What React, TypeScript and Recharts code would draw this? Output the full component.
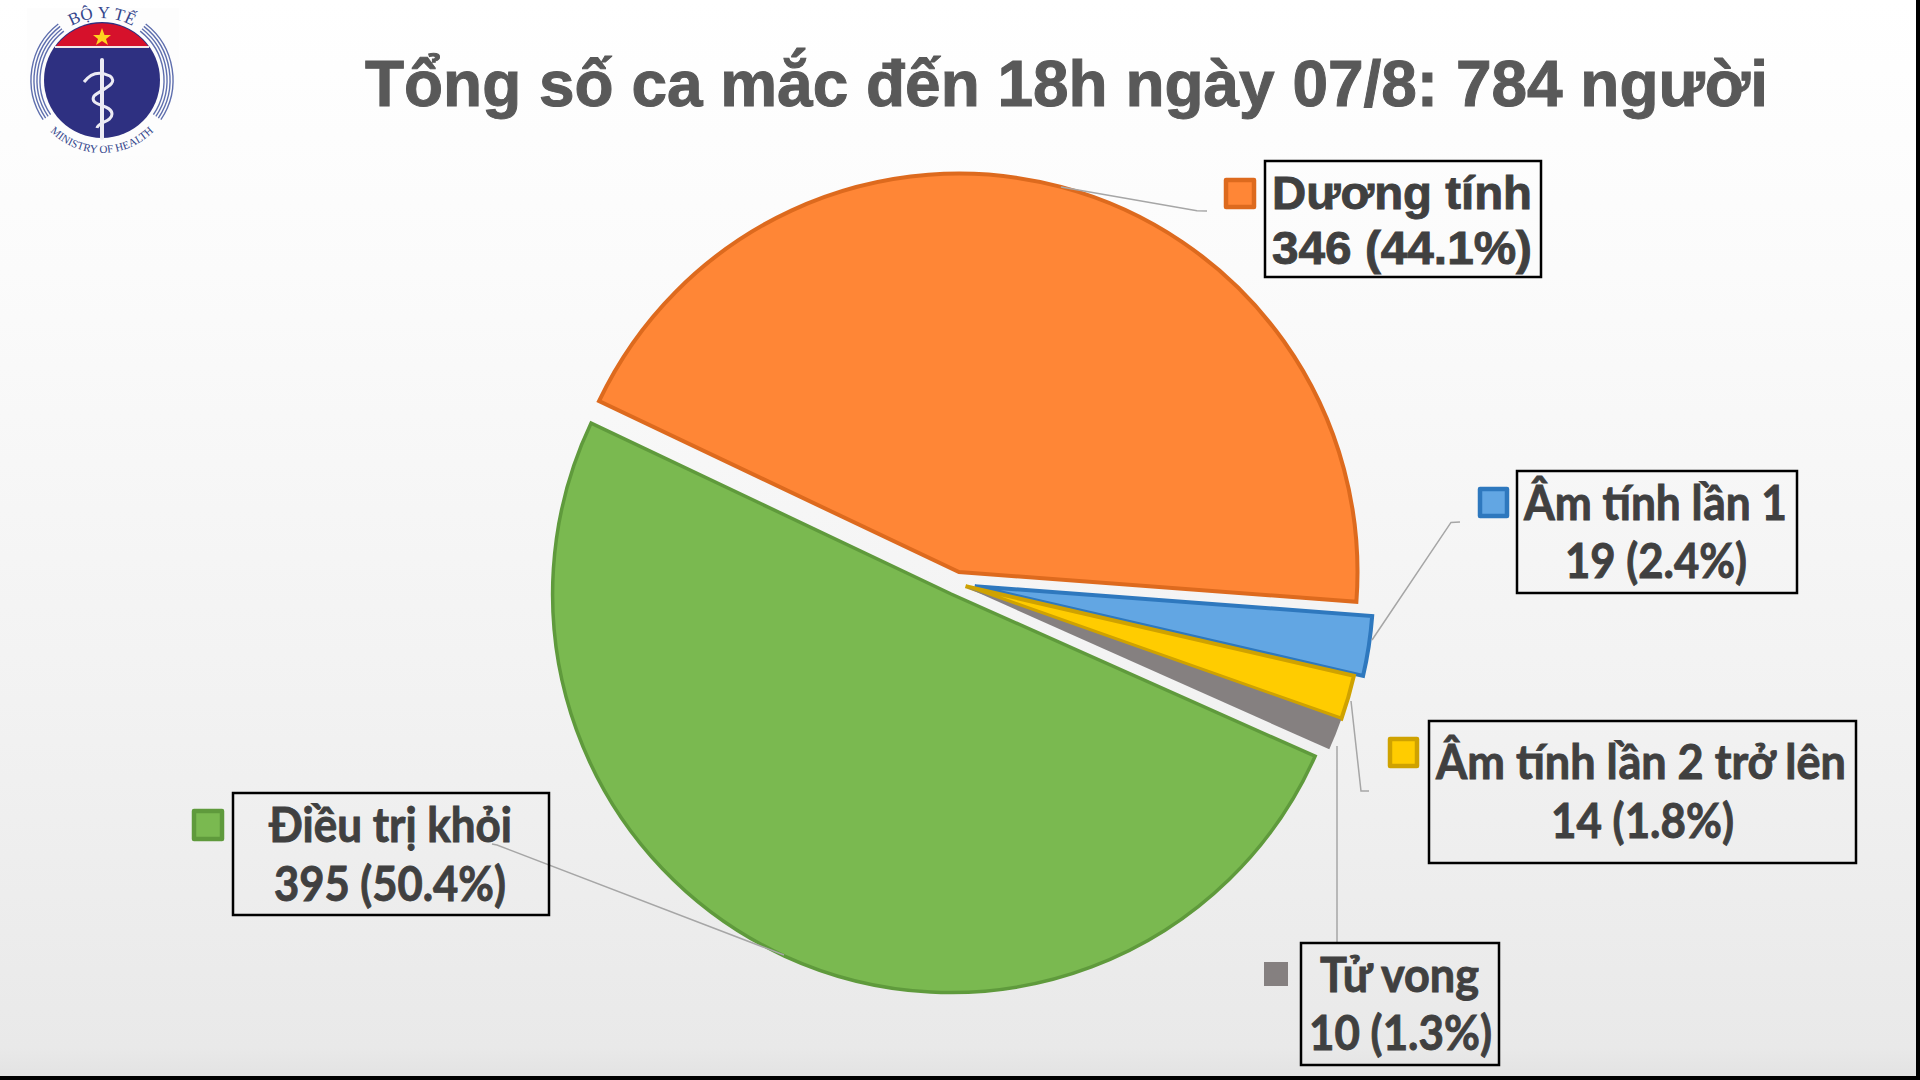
import React from "react";
import { PieChart, Pie, Cell, Sector } from "recharts";

const categories = ["Dương tính", "Âm tính lần 1", "Âm tính lần 2 trở lên", "Tử vong", "Điều trị khỏi"];
const values = [346, 19, 14, 10, 395];
const valueLabels = ["346 (44.1%)", "19 (2.4%)", "14 (1.8%)", "10 (1.3%)", "395 (50.4%)"];
const titleText = "Tổng số ca mắc đến 18h ngày 07/8: 784 người";

const rows = categories.map((name, i) => ({ name, value: values[i] }));

const fills = ["#FF8636", "#62A6E3", "#FFCC00", "#858080", "#7AB950"];
const strokes = ["#DD6A1E", "#2E78BE", "#CFA200", "#858080", "#5F9A3C"];
const strokeWidths = [4, 4, 4, 0, 3.5];
const explode = [11.7, 19, 10, 10, 11.7];

const boxes = [
  { x: 1265, y: 161, w: 276, h: 116 },
  { x: 1517, y: 471, w: 280, h: 122 },
  { x: 1429, y: 721, w: 427, h: 142 },
  { x: 1301, y: 943, w: 198, h: 122 },
  { x: 233, y: 793, w: 316, h: 122 },
];
const markers = [
  { x: 1226, y: 180, w: 28, h: 27 },
  { x: 1480, y: 489, w: 27, h: 27 },
  { x: 1390, y: 739, w: 27, h: 27 },
  { x: 1264, y: 962, w: 24, h: 24 },
  { x: 194, y: 811, w: 28, h: 28 },
];
const leaders = [
  "1061,187 1197,210.7 1207,211",
  "1372,640 1451,522.4 1460,522",
  "1351,701 1361,791 1369,791",
  "1337,746 1337,943",
  "492,844 497,845 784,955",
];
const textPlace = [
  { x1: 1272, w1: 260, b1: 209, x2: 1272, w2: 260, b2: 264, font: "'Liberation Sans'", size: 47 },
  { x1: 1524, w1: 263, b1: 520, x2: 1565, w2: 182, b2: 578, font: "Lato", size: 47 },
  { x1: 1436, w1: 410, b1: 779, x2: 1551, w2: 183, b2: 838, font: "Lato", size: 47 },
  { x1: 1320, w1: 159, b1: 992, x2: 1309, w2: 183, b2: 1050, font: "Lato", size: 47 },
  { x1: 269, w1: 243, b1: 842, x2: 274, w2: 232, b2: 901, font: "Lato", size: 47 },
];

const RAD = Math.PI / 180;
const Slice = (props: any) => {
  const { cx, cy, midAngle, index } = props;
  const d = explode[index] ?? 0;
  return (
    <Sector
      {...props}
      cx={cx + d * Math.cos(midAngle * RAD)}
      cy={cy - d * Math.sin(midAngle * RAD)}
      fill={fills[index]}
      stroke={strokes[index]}
      strokeWidth={strokeWidths[index]}
    />
  );
};

const LC = { x: 102, y: 80 };
const polar = (r: number, deg: number) => ({
  x: LC.x + r * Math.cos(deg * RAD),
  y: LC.y - r * Math.sin(deg * RAD),
});
const arc = (r: number, from: number, to: number, sweep: number) => {
  const a = polar(r, from);
  const b = polar(r, to);
  return `M ${a.x} ${a.y} A ${r} ${r} 0 0 ${sweep} ${b.x} ${b.y}`;
};
const ringRadii = [62, 65, 68, 71];

const Logo = () => (
  <svg width={220} height={170} style={{ position: "absolute", left: 0, top: 0 }}>
    <rect x={27} y={8} width={152} height={148} fill="#fdfdfd" />
    <defs>
      <path id="arcTop" d={arc(62, 135, 45, 1)} />
      <path id="arcBottom" d={arc(73, 222, 318, 0)} />
    </defs>
    <circle cx={LC.x} cy={LC.y} r={58} fill="#2E3081" />
    <path d="M 56 46 A 58 58 0 0 1 148 46 Z" fill="#D6112B" />
    <line x1={55} y1={47} x2={149} y2={47} stroke="#f3e6e6" strokeWidth={2} />
    <polygon points="102,29 104.5,36 111,36 106,40 108,46 102,42 96,46 98,40 93,36 99.5,36" fill="#FFD21F" transform="translate(0,-1) scale(1)" />
    {ringRadii.map((r) => (
      <g key={r} fill="none" stroke="#5F6FAE" strokeWidth={1.4}>
        <path d={arc(r, 128, 214, 0)} />
        <path d={arc(r, 52, -34, 1)} />
      </g>
    ))}
    <line x1={102} y1={60} x2={102} y2={138} stroke="#ecebf4" strokeWidth={4} strokeLinecap="round" />
    <path d="M 84 82 C 90 74 98 70 110 76 C 120 84 100 90 94 96 C 88 106 112 104 112 114 C 112 122 98 122 97 128" fill="none" stroke="#ecebf4" strokeWidth={3} />
    <text fontSize={17} fontFamily="'Liberation Serif'" fill="#34468C">
      <textPath href="#arcTop" startOffset="50%" textAnchor="middle">BỘ Y TẾ</textPath>
    </text>
    <text fontSize={11} fontFamily="'Liberation Serif'" fill="#34468C">
      <textPath href="#arcBottom" startOffset="50%" textAnchor="middle">MINISTRY OF HEALTH</textPath>
    </text>
  </svg>
);

export default function App() {
  return (
    <div
      style={{
        position: "absolute",
        left: 0,
        top: 0,
        width: 1920,
        height: 1080,
        overflow: "hidden",
        background: "linear-gradient(#ffffff 0%, #fbfbfb 25%, #f2f2f2 65%, #e9e9e9 97%, #e2e2e2 100%)",
      }}
    >
      <PieChart width={1920} height={1080} margin={{ top: 0, right: 0, bottom: 0, left: 0 }} style={{ position: "absolute", left: 0, top: 0 }}>
        <Pie
          data={rows}
          dataKey="value"
          nameKey="name"
          cx={956}
          cy={583.4}
          innerRadius={0}
          outerRadius={398.5}
          startAngle={154.6}
          endAngle={-205.4}
          paddingAngle={0}
          isAnimationActive={false}
          legendType="square"
          shape={Slice}
          activeShape={Slice}
          inactiveShape={Slice}
        >
          {rows.map((r, i) => (
            <Cell key={r.name} fill={fills[i]} stroke={strokes[i]} />
          ))}
        </Pie>
      </PieChart>
      <svg width={1920} height={1080} style={{ position: "absolute", left: 0, top: 0 }}>
        <text x={365} y={106} fontFamily="'Liberation Sans'" fontWeight={700} fontSize={64} fill="#595959" stroke="#595959" strokeWidth={1} textLength={1403} lengthAdjust="spacingAndGlyphs">
          {titleText}
        </text>
        {leaders.map((p, i) => (
          <polyline key={i} points={p} fill="none" stroke="#A6A6A6" strokeWidth={1.5} />
        ))}
        {categories.map((name, i) => {
          const m = markers[i];
          const b = boxes[i];
          const t = textPlace[i];
          return (
            <g key={name}>
              <rect x={m.x} y={m.y} width={m.w} height={m.h} fill={fills[i]} stroke={strokes[i]} strokeWidth={i === 3 ? 0 : 4.5} strokeLinejoin="round" />
              <rect x={b.x} y={b.y} width={b.w} height={b.h} fill="none" stroke="#000" strokeWidth={2.5} />
              <text x={t.x1} y={t.b1} fontFamily={t.font} fontWeight={700} fontSize={t.size} fill="#404040" stroke="#404040" strokeWidth={0.9} textLength={t.w1} lengthAdjust="spacingAndGlyphs">{name}</text>
              <text x={t.x2} y={t.b2} fontFamily={t.font} fontWeight={700} fontSize={t.size} fill="#404040" stroke="#404040" strokeWidth={0.9} textLength={t.w2} lengthAdjust="spacingAndGlyphs">{valueLabels[i]}</text>
            </g>
          );
        })}
        <rect x={0} y={1076} width={1920} height={4} fill="#000" />
        <rect x={1916} y={0} width={4} height={1080} fill="#000" />
      </svg>
      <Logo />
    </div>
  );
}
